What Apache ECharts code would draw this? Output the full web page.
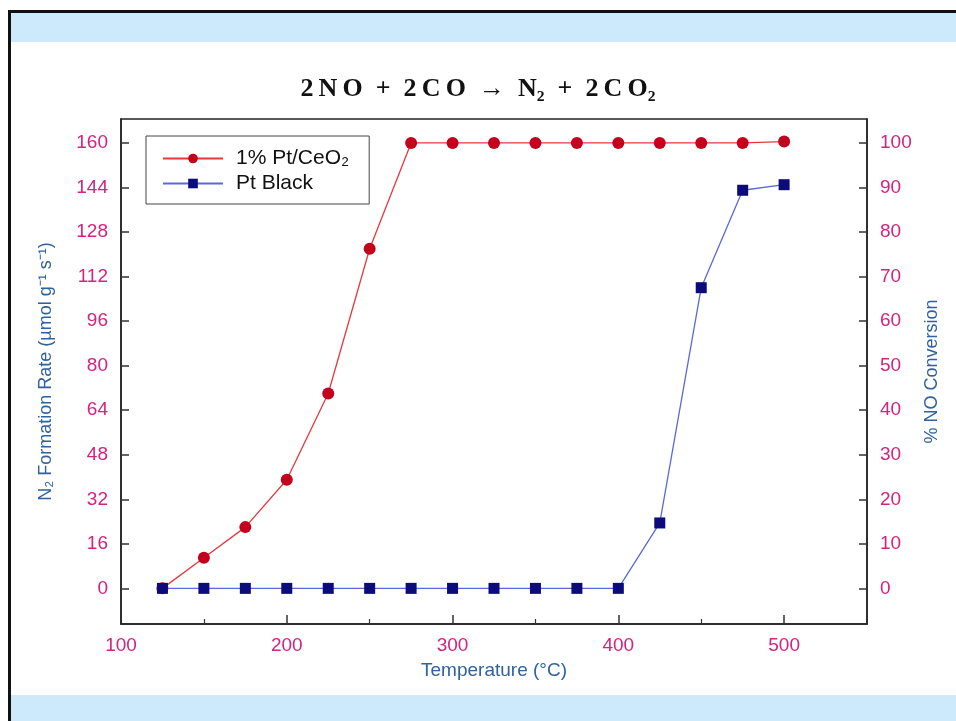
<!DOCTYPE html>
<html>
<head>
<meta charset="utf-8">
<script src="https://cdn.jsdelivr.net/npm/echarts@6/dist/echarts.min.js"></script>
<style>
html,body{margin:0;padding:0;background:#fff;}
#wrap{position:relative;width:956px;height:721px;overflow:hidden;background:#fff;}
.bk{position:absolute;background:#111;}
.band{position:absolute;background:#cdeafc;}
#c{position:absolute;left:0;top:0;width:956px;height:721px;}
</style>
</head>
<body>
<div id="wrap">
  <div class="band" style="left:11px;top:13px;width:945px;height:29px;"></div>
  <div class="band" style="left:11px;top:695px;width:945px;height:26px;"></div>
  <div class="bk" style="left:8px;top:10px;width:948px;height:3px;"></div>
  <div class="bk" style="left:8px;top:10px;width:3px;height:711px;"></div>
  <div id="c"></div>
</div>
<script>
// ---- data ----
const temperatures = [125,150,175,200,225,250,275,300,325,350,375,400,425,450,475,500];
const ptCeO2Rate   = [0,11,22,39,70,122,160,160,160,160,160,160,160,160,160,160.5];
const ptBlackRate  = [0,0,0,0,0,0,0,0,0,0,0,0,23.5,108,143,145];
const seriesNames  = ['1% Pt/CeO\u2082', 'Pt Black'];
const leftTicks    = [0,16,32,48,64,80,96,112,128,144,160];
const rightTicks   = [0,10,20,30,40,50,60,70,80,90,100];
const xLabels      = [100,200,300,400,500];
const xMajorTicks  = [200,300,400,500];
const xMinorTicks  = [150,250,350,450];
const titleText    = '2\u2009N\u2009O  +  2\u2009C\u2009O  \u2192  N\u2082  +  2\u2009C\u2009O\u2082';

const MAG = '#d4237f';
const BLUE = '#2f62a0';
const FONT = 'Liberation Sans, Arial, sans-serif';

const zip = (xs, ys) => xs.map((x, i) => [x, ys[i]]);

const chart = echarts.init(document.getElementById('c'), null, {renderer: 'canvas'});
chart.setOption({
  backgroundColor: 'transparent',
  animation: false,
  title: {
    text: titleText,
    left: 'center',
    top: 71,
    textStyle: {fontFamily: 'Liberation Serif, DejaVu Serif, serif', fontWeight: 'bold', fontSize: 26, color: '#111'}
  },
  grid: {left: 121, right: 89, top: 119, bottom: 97, show: true, borderColor: '#222', borderWidth: 1.5, backgroundColor: 'transparent'},
  legend: {
    data: seriesNames,
    orient: 'vertical',
    left: 146, top: 136,
    padding: [12, 20, 10, 16],
    itemGap: 4,
    itemWidth: 60, itemHeight: 12,
    borderColor: '#444', borderWidth: 1,
    textStyle: {fontFamily: FONT, fontSize: 21, color: '#111', lineHeight: 20, padding: [0,0,0,8]}
  },
  xAxis: [{
    type: 'value', min: 100, max: 550, position: 'bottom',
    axisLine: {show: true, onZero: false, lineStyle: {color: '#222', width: 1.5}},
    axisTick: {show: true, inside: true, length: 9, customValues: xMajorTicks, lineStyle: {color: '#333', width: 1.5}},
    axisLabel: {customValues: xLabels, color: MAG, fontSize: 19, fontFamily: FONT, margin: 12},
    splitLine: {show: false},
    name: 'Temperature (\u00B0C)', nameLocation: 'middle', nameGap: 37,
    nameTextStyle: {color: BLUE, fontSize: 19, fontFamily: FONT}
  }, {
    type: 'value', min: 100, max: 550, position: 'bottom',
    axisLine: {show: false, onZero: false},
    axisTick: {show: true, inside: true, length: 5, customValues: xMinorTicks, lineStyle: {color: '#333', width: 1.2}},
    axisLabel: {show: false},
    splitLine: {show: false}
  }],
  yAxis: [{
    type: 'value', min: -12.8, max: 168.6, position: 'left',
    axisLine: {show: true, onZero: false, lineStyle: {color: '#222', width: 1.5}},
    axisTick: {show: true, inside: true, length: 8, customValues: leftTicks, lineStyle: {color: '#333', width: 1.5}},
    axisLabel: {customValues: leftTicks, color: MAG, fontSize: 19, fontFamily: FONT, margin: 13},
    splitLine: {show: false},
    name: 'N\u2082 Formation Rate (\u00B5mol g\u207B\u00B9 s\u207B\u00B9)', nameLocation: 'middle', nameGap: 66,
    nameTextStyle: {color: BLUE, fontSize: 18, fontFamily: FONT}
  }, {
    type: 'value', min: -8, max: 105.375, position: 'right',
    axisLine: {show: true, onZero: false, lineStyle: {color: '#222', width: 1.5}},
    axisTick: {show: true, inside: true, length: 8, customValues: rightTicks, lineStyle: {color: '#333', width: 1.5}},
    axisLabel: {customValues: rightTicks, color: MAG, fontSize: 19, fontFamily: FONT, margin: 13},
    splitLine: {show: false},
    name: '% NO Conversion', nameLocation: 'middle', nameGap: 52,
    nameTextStyle: {color: BLUE, fontSize: 18, fontFamily: FONT}
  }],
  series: [{
    name: seriesNames[0], type: 'line', xAxisIndex: 0, yAxisIndex: 0,
    data: zip(temperatures, ptCeO2Rate),
    symbol: 'circle', symbolSize: 12,
    itemStyle: {color: '#c4001c'},
    lineStyle: {color: '#e5393f', width: 1.3},
    z: 2
  }, {
    name: seriesNames[1], type: 'line', xAxisIndex: 0, yAxisIndex: 0,
    data: zip(temperatures, ptBlackRate),
    symbol: 'rect', symbolSize: 11,
    itemStyle: {color: '#0b0b7c'},
    lineStyle: {color: '#5a68dc', width: 1.3},
    z: 3
  }]
});
</script>
</body>
</html>
